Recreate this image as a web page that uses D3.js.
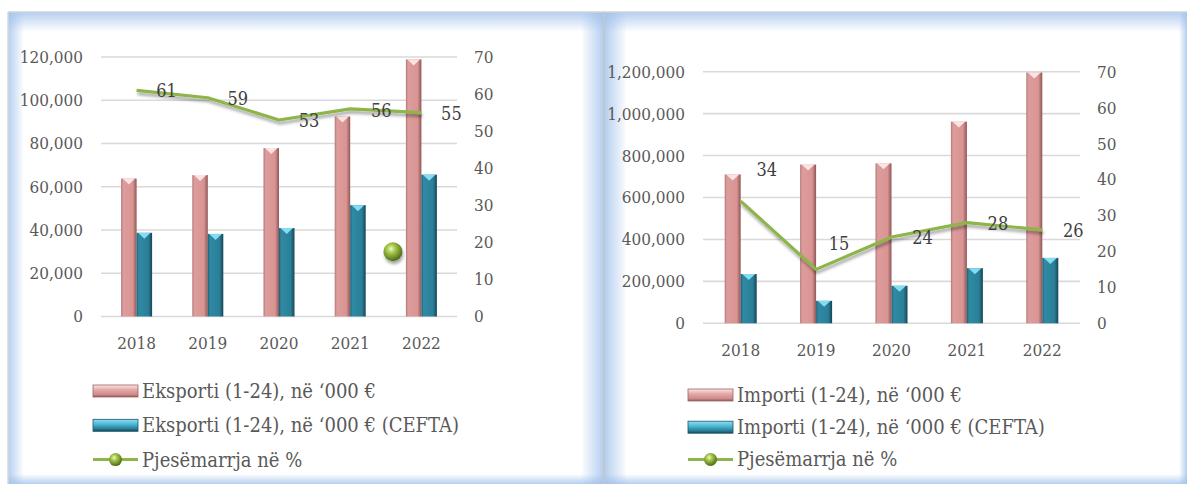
<!DOCTYPE html>
<html>
<head>
<meta charset="utf-8">
<script src="https://cdn.jsdelivr.net/npm/d3@7"></script>
<style>
  html, body { margin: 0; padding: 0; background: #ffffff; }
  svg { display: block; }
</style>
</head>
<body>
<svg id="chart" width="1187" height="484" font-family="'DejaVu Serif Condensed', 'DejaVu Serif', serif" font-stretch="condensed"></svg>
<script>
// data
const years = ["2018", "2019", "2020", "2021", "2022"];
const eksporti = [63800, 65400, 77900, 92500, 118900];
const eksportiCefta = [38700, 38200, 40900, 51500, 65600];
const pjesemarrjaEks = [61, 59, 53, 56, 55];
const importi = [710000, 757000, 763000, 962000, 1196000];
const importiCefta = [235000, 107000, 179000, 263000, 312000];
const pjesemarrjaImp = [34, 15, 24, 28, 26];
const leftTicks = [0, 20000, 40000, 60000, 80000, 100000, 120000];
const rightTicksImp = [0, 200000, 400000, 600000, 800000, 1000000, 1200000];
const pctTicks = [0, 10, 20, 30, 40, 50, 60, 70];
// loose marker that sits inside the left plot (index position, % value)
const strayMarker = [{ pos: 3.6, value: 17.5 }];

const svg = d3.select("#chart");
const defs = svg.append("defs");

// gradients for the bevelled bars
function hGrad(id, stops) {
    const g = defs.append("linearGradient").attr("id", id)
        .attr("x1", "0").attr("x2", "1").attr("y1", "0").attr("y2", "0");
    stops.forEach(s => g.append("stop").attr("offset", s[0]).attr("stop-color", s[1]));
}
function vGrad(id, stops) {
    const g = defs.append("linearGradient").attr("id", id)
        .attr("x1", "0").attr("x2", "0").attr("y1", "0").attr("y2", "1");
    stops.forEach(s => g.append("stop").attr("offset", s[0]).attr("stop-color", s[1]));
}
hGrad("pinkBar", [[0, "#b57674"], [0.14, "#dc9d9c"], [0.75, "#d99493"], [1, "#8f5756"]]);
hGrad("tealBar", [[0, "#1d5e71"], [0.14, "#2f8aa4"], [0.75, "#2b7f98"], [1, "#164657"]]);
vGrad("pinkLeg", [[0, "#fbe6e5"], [0.4, "#e3a9a8"], [0.8, "#cf8a89"], [1, "#8f5756"]]);
vGrad("tealLeg", [[0, "#8fe0f5"], [0.4, "#4fb8d6"], [0.8, "#2a7d95"], [1, "#164657"]]);

const ball = defs.append("radialGradient").attr("id", "ball")
    .attr("cx", "0.4").attr("cy", "0.35").attr("r", "0.65");
ball.append("stop").attr("offset", 0).attr("stop-color", "#eef8c0");
ball.append("stop").attr("offset", 0.35).attr("stop-color", "#a5c84a");
ball.append("stop").attr("offset", 1).attr("stop-color", "#4d6a17");

const shadow = defs.append("filter").attr("id", "lineShadow")
    .attr("x", "-10%").attr("y", "-50%").attr("width", "120%").attr("height", "200%");
shadow.append("feDropShadow").attr("dx", 1).attr("dy", 3).attr("stdDeviation", 1.5)
    .attr("flood-color", "#000").attr("flood-opacity", 0.35);

// soft blue glow along the inside of a panel frame
function glow(id, dir) {
    const g = defs.append("linearGradient").attr("id", id);
    const c = { l: [0, 0, 1, 0], r: [1, 0, 0, 0], t: [0, 0, 0, 1], b: [0, 1, 0, 0] }[dir];
    g.attr("x1", c[0]).attr("y1", c[1]).attr("x2", c[2]).attr("y2", c[3]);
    g.append("stop").attr("offset", 0).attr("stop-color", "#9dbfea").attr("stop-opacity", 0.75);
    g.append("stop").attr("offset", 1).attr("stop-color", "#9dbfea").attr("stop-opacity", 0);
}
["l", "r", "t", "b"].forEach(d => glow("glow-" + d, d));

function panelFrame(x0, x1, y0, y1, gl) {
    const f = svg.append("g");
    f.append("rect").attr("x", x0).attr("y", y0).attr("width", x1 - x0).attr("height", y1 - y0)
        .attr("fill", "#ffffff");
    f.append("rect").attr("x", x0).attr("y", y0).attr("width", gl.l).attr("height", y1 - y0)
        .attr("fill", "url(#glow-l)");
    f.append("rect").attr("x", x1 - gl.r).attr("y", y0).attr("width", gl.r).attr("height", y1 - y0)
        .attr("fill", "url(#glow-r)");
    f.append("rect").attr("x", x0).attr("y", y0).attr("width", x1 - x0).attr("height", gl.t)
        .attr("fill", "url(#glow-t)");
    f.append("rect").attr("x", x0).attr("y", y1 - gl.b).attr("width", x1 - x0).attr("height", gl.b)
        .attr("fill", "url(#glow-b)");
}

panelFrame(8, 603, 12, 484, { l: 16, r: 22, t: 20, b: 10 });
panelFrame(605, 1187, 12, 484, { l: 22, r: 8, t: 20, b: 10 });
// frame lines
svg.append("line").attr("x1", 8).attr("x2", 1187).attr("y1", 12).attr("y2", 12)
    .attr("stroke", "#cfd3d8").attr("stroke-width", 1.5);
svg.append("line").attr("x1", 8).attr("x2", 8).attr("y1", 12).attr("y2", 484)
    .attr("stroke", "#d6d9dd").attr("stroke-width", 1.5);
svg.append("line").attr("x1", 604).attr("x2", 604).attr("y1", 12).attr("y2", 484)
    .attr("stroke", "#c3c6ca").attr("stroke-width", 2);

function drawPanel(p) {
    const g = svg.append("g");

    const x = d3.scaleBand().domain(years).range(p.xRange)
        .paddingInner(1 - 2 * p.barW / ((p.xRange[1] - p.xRange[0]) / years.length))
        .paddingOuter((1 - 2 * p.barW / ((p.xRange[1] - p.xRange[0]) / years.length)) / 2);
    const step = x.step();
    const xc = d => x(d) + x.bandwidth() / 2;
    const xIdx = d3.scaleLinear().domain([0, 1]).range([p.xRange[0] + step / 2, p.xRange[0] + step * 1.5]);
    const y = d3.scaleLinear().domain([0, p.max]).range(p.yRange);
    const y2 = d3.scaleLinear().domain([0, 70]).range(p.yRange);

    // gridlines
    g.selectAll(".grid").data(p.ticks).enter().append("line")
        .attr("x1", p.xRange[0]).attr("x2", p.xRange[1])
        .attr("y1", d => y(d)).attr("y2", d => y(d))
        .attr("stroke", "#d9d9d9").attr("stroke-width", 1.6);

    // left axis
    const fmt = d3.format(",");
    g.selectAll(".yl").data(p.ticks).enter().append("text")
        .attr("x", p.xRange[0] - 18).attr("y", d => y(d)).attr("dy", "0.35em")
        .attr("text-anchor", "end").attr("font-size", p.fs).attr("fill", "#595959")
        .text(d => fmt(d));
    // right axis
    g.selectAll(".yr").data(pctTicks).enter().append("text")
        .attr("x", p.xRange[1] + 17).attr("y", d => y2(d)).attr("dy", "0.35em")
        .attr("text-anchor", "start").attr("font-size", p.fs).attr("fill", "#595959")
        .text(d => d);
    // category labels
    g.selectAll(".xl").data(years).enter().append("text")
        .attr("x", d => xc(d)).attr("y", p.yRange[0] + 27).attr("dy", "0.35em")
        .attr("text-anchor", "middle").attr("font-size", p.fs).attr("fill", "#595959")
        .text(d => d);

    // bars
    const series = [
        { vals: p.main, fill: "url(#pinkBar)", tip: "#fbe3e2", off: -p.barW },
        { vals: p.cefta, fill: "url(#tealBar)", tip: "#84dcf3", off: 0 }
    ];
    series.forEach(s => {
        const bars = g.append("g").selectAll("g").data(years).enter().append("g");
        bars.append("rect")
            .attr("x", d => xc(d) + s.off).attr("width", p.barW)
            .attr("y", (d, i) => y(s.vals[i]))
            .attr("height", (d, i) => y(0) - y(s.vals[i]))
            .attr("fill", s.fill);
        bars.append("path")
            .attr("d", (d, i) => {
                const x0 = xc(d) + s.off, t = y(s.vals[i]);
                return `M${x0 + 1.5},${t} L${x0 + p.barW - 1.5},${t} L${x0 + p.barW / 2},${t + 6} Z`;
            })
            .attr("fill", s.tip);
    });

    // share line
    const line = d3.line().x((d, i) => xc(years[i])).y(d => y2(d));
    g.append("path").datum(p.pct).attr("d", line)
        .attr("fill", "none").attr("stroke", "#8db54a").attr("stroke-width", 3.2)
        .attr("stroke-linejoin", "round").attr("filter", "url(#lineShadow)");

    g.selectAll(".dl").data(p.pct).enter().append("text")
        .attr("x", (d, i) => xc(years[i]) + p.labelDx[i])
        .attr("y", (d, i) => y2(d) + p.labelDy[i]).attr("dy", "0.35em")
        .attr("text-anchor", "middle").attr("font-size", p.dfs).attr("fill", "#404040")
        .text(d => d);

    if (p.stray) {
        g.selectAll(".stray").data(p.stray).enter().append("circle")
            .attr("cx", d => xIdx(d.pos)).attr("cy", d => y2(d.value)).attr("r", 9.5)
            .attr("fill", "url(#ball)").attr("filter", "url(#lineShadow)");
    }

    // legend
    const lg = g.append("g").attr("transform", `translate(${p.legend.x},${p.legend.y})`);
    const items = [
        { label: p.names[0], type: "bar", fill: "url(#pinkLeg)", edge: "#9b6463" },
        { label: p.names[1], type: "bar", fill: "url(#tealLeg)", edge: "#1c5566" },
        { label: p.names[2], type: "line" }
    ];
    items.forEach((it, i) => {
        const row = lg.append("g").attr("transform", `translate(0,${i * p.legend.gap})`);
        if (it.type === "bar") {
            row.append("rect").attr("x", 0).attr("y", -6).attr("width", 45).attr("height", 12)
                .attr("fill", it.fill).attr("stroke", it.edge).attr("stroke-width", 0.8);
        } else {
            row.append("line").attr("x1", 0).attr("x2", 45).attr("y1", 0).attr("y2", 0)
                .attr("stroke", "#8db54a").attr("stroke-width", 3);
            row.append("circle").attr("cx", 22.5).attr("cy", 0).attr("r", 6.5)
                .attr("fill", "url(#ball)");
        }
        row.append("text").attr("x", 49).attr("y", 0).attr("dy", "0.35em")
            .attr("font-size", p.lfs).attr("fill", "#595959").text(it.label);
    });
}

drawPanel({
    xRange: [101, 457], yRange: [316.5, 57], max: 120000, ticks: leftTicks, barW: 15.5,
    fs: 17, lfs: 20, dfs: 18,
    main: eksporti, cefta: eksportiCefta, pct: pjesemarrjaEks,
    labelDx: [30, 30, 30, 31, 30], labelDy: [0, 1, 1, 2, 1],
    stray: strayMarker,
    legend: { x: 93, y: 391, gap: 34.3 },
    names: ["Eksporti (1-24), në ‘000 €", "Eksporti (1-24), në ‘000 € (CEFTA)", "Pjesëmarrja në %"]
});

drawPanel({
    xRange: [703, 1080], yRange: [323.3, 71.7], max: 1200000, ticks: rightTicksImp, barW: 16,
    fs: 17, lfs: 20, dfs: 18,
    main: importi, cefta: importiCefta, pct: pjesemarrjaImp,
    labelDx: [26, 23, 31, 31, 31], labelDy: [-31, -26, 1, 1, 1],
    stray: null,
    legend: { x: 688, y: 395, gap: 32.2 },
    names: ["Importi (1-24), në ‘000 €", "Importi (1-24), në ‘000 € (CEFTA)", "Pjesëmarrja në %"]
});
</script>
</body>
</html>
